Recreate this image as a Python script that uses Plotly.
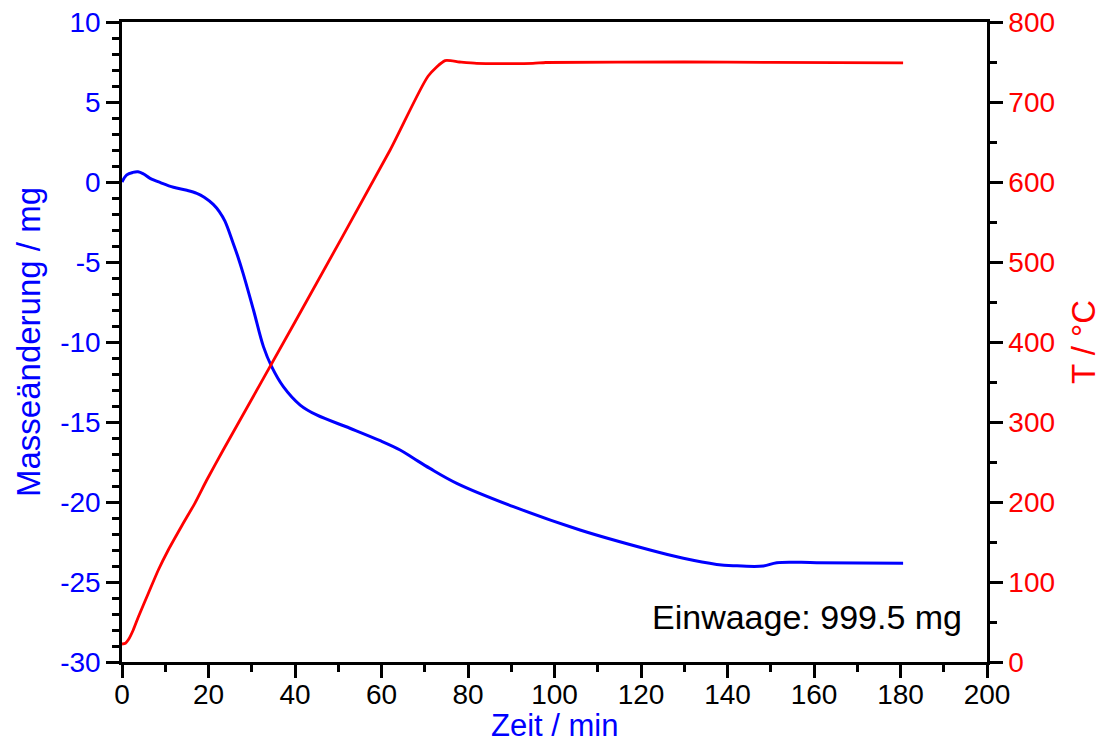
import plotly.graph_objects as go

# Mass change (blue)
time_mass = [0, 1.1, 2.5, 3.7, 5, 6.5, 9, 11.9, 15, 17.3, 19, 21.1, 22.5, 23.8, 25.7, 26.7,
             28.0, 30.4, 32.7, 34.6, 37.3, 41.2, 45.0, 52.7, 59.7, 64.3, 67.4, 71.2, 77.4,
             90.5, 105.9, 122.1, 129.8, 137.5, 141.3, 148.3, 151.4, 160.6, 180.6]
mass = [0, 0.44, 0.6, 0.64, 0.5, 0.23, -0.05, -0.33, -0.52, -0.71, -0.95, -1.4, -1.85, -2.45,
        -3.83, -4.6, -5.71, -8.0, -10.29, -11.54, -12.79, -13.94, -14.56, -15.39, -16.17,
        -16.75, -17.27, -17.9, -18.83, -20.29, -21.75, -23.0, -23.52, -23.9, -23.98, -24.0,
        -23.79, -23.79, -23.83]

# Temperature (red)
time_temp = [0, 0.8, 1.5, 2.6, 3.8, 6.1, 8.4, 10.7, 13.8, 16.9, 19.6, 23.4, 40, 62, 70.8,
             74.7, 78, 82, 95, 98, 130, 150, 180.6]
temp = [22.5, 23.5, 28, 40, 56.6, 85.9, 115, 140, 170, 199, 227.5, 265, 425, 640, 732.5,
        751.7, 750, 748.3, 748.3, 749.4, 750, 749.5, 749]

x_ticks = [0, 20, 40, 60, 80, 100, 120, 140, 160, 180, 200]
y_ticks = [-30, -25, -20, -15, -10, -5, 0, 5, 10]
y_tick_labels = ["-30", "-25", "-20", "-15", "-10", "-5", "0", "5", "10"]
y2_ticks = [0, 100, 200, 300, 400, 500, 600, 700, 800]

FONT = "Liberation Sans, Arial, sans-serif"
BLUE = "#0000ff"
RED = "#ff0000"

W, H = 1101, 742
L, R, T, B = 122, 114, 22, 80

fig = go.Figure()
fig.add_trace(go.Scatter(x=time_mass, y=mass, mode="lines",
                         line=dict(color=BLUE, width=3, shape="spline", smoothing=1.0),
                         yaxis="y", showlegend=False))
fig.add_trace(go.Scatter(x=time_temp, y=temp, mode="lines",
                         line=dict(color=RED, width=2.8, shape="spline", smoothing=0.6),
                         yaxis="y2", showlegend=False))

pw, ph = W - L - R, H - T - B

def px_x(px):
    return (px - L) / pw

def px_y(py):
    return (H - B - py) / ph

fig.add_annotation(text="Einwaage: 999.5 mg", xref="paper", yref="paper",
                   x=px_x(964), y=px_y(617), xanchor="right", yanchor="middle",
                   showarrow=False, font=dict(family=FONT, size=34, color="black"))
# axis titles
fig.add_annotation(text="Zeit / min", xref="paper", yref="paper",
                   x=px_x(554), y=px_y(725), xanchor="center", yanchor="middle",
                   showarrow=False, borderpad=0, font=dict(family=FONT, size=31, color=BLUE))
fig.add_annotation(text="Masseänderung / mg", xref="paper", yref="paper", textangle=-90,
                   x=px_x(28), y=px_y(342), xanchor="center", yanchor="middle",
                   showarrow=False, font=dict(family=FONT, size=33, color=BLUE))
fig.add_annotation(text="T / °C", xref="paper", yref="paper", textangle=-90,
                   x=px_x(1083), y=px_y(342), xanchor="center", yanchor="middle",
                   showarrow=False, font=dict(family=FONT, size=33, color=RED))

minor_common = dict(ticks="outside", ticklen=7, tickwidth=2.5, tickcolor="black")

fig.update_layout(
    width=W, height=H,
    margin=dict(l=L, r=R, t=T, b=B, autoexpand=False),
    plot_bgcolor="white", paper_bgcolor="white",
    font=dict(family=FONT, size=28, color="black"),
    xaxis=dict(range=[0, 200], tickvals=x_ticks, ticks="outside", ticklen=13, tickwidth=2.5,
               tickcolor="black", showline=True, linecolor="black", linewidth=2.5, mirror=True,
               showgrid=False, zeroline=False, automargin=False, ticklabelstandoff=-7,
               minor=dict(dtick=10, tick0=0, **minor_common),
               tickfont=dict(family=FONT, size=28, color="black")),
    yaxis=dict(range=[-30, 10], tickvals=y_ticks, ticktext=y_tick_labels, ticks="outside",
               ticklen=13, tickwidth=2.5,
               tickcolor="black", showline=True, linecolor="black", linewidth=2.5,
               showgrid=False, zeroline=False, automargin=False,
               minor=dict(dtick=1, tick0=0, **minor_common),
               tickfont=dict(family=FONT, size=28, color=BLUE)),
    yaxis2=dict(range=[0, 800], tickvals=y2_ticks, ticks="outside", ticklen=13, tickwidth=2.5,
                tickcolor="black", showline=True, linecolor="black", linewidth=2.5,
                overlaying="y", side="right", showgrid=False, zeroline=False, automargin=False,
                minor=dict(dtick=50, tick0=0, **minor_common),
                tickfont=dict(family=FONT, size=28, color=RED)),
)

fig.write_html("out.html")
